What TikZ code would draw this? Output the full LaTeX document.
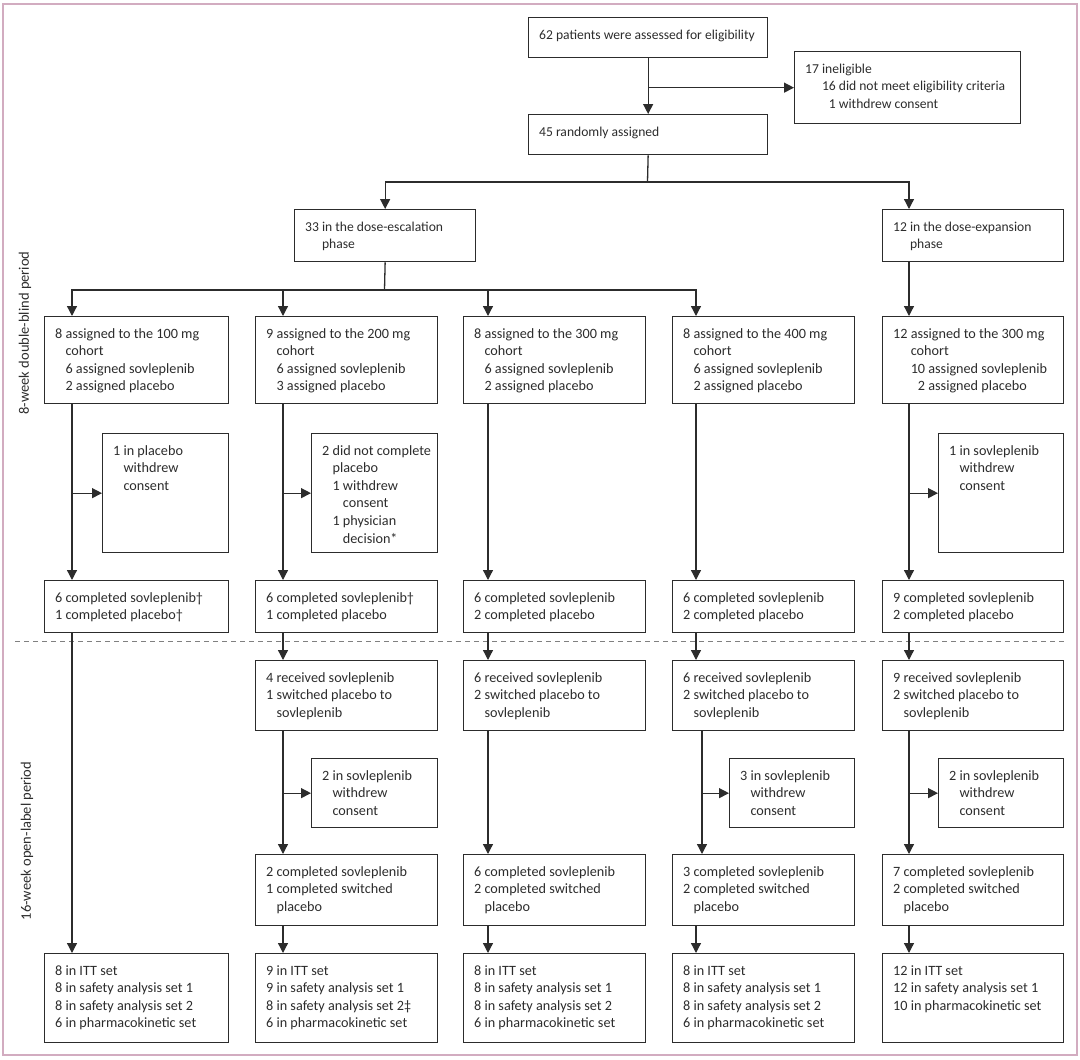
\documentclass[tikz,border=0pt]{standalone}
\usepackage{fontspec}
\setmainfont{Carlito}
\usetikzlibrary{arrows.meta}
\definecolor{ink}{HTML}{2C2C2C}
\definecolor{framecol}{RGB}{210,172,192}
\definecolor{dashcol}{HTML}{808080}
\newcommand\bx[7][]{%
  \pgfmathsetmacro\bw{#5-#3-21}\pgfmathsetmacro\bd{#6-#4-21.5}%
  \node[box, #1, text height=21.5pt, text depth=\bd pt] (#2) at (#3,#4)
    {\makebox[\bw pt][l]{\begin{tabular}[t]{@{}l@{}}#7\end{tabular}}};}
\begin{document}
\begin{tikzpicture}[x=1pt,y=-1pt,
  box/.style={draw=ink, line width=1.3pt, inner xsep=10.5pt, inner ysep=0pt, text=ink,
    font=\fontsize{14.2}{17.6}\selectfont, anchor=north west},
  topbox/.style={font=\fontsize{13.6}{17.6}\selectfont},
  line/.style={draw=ink, line width=1.3pt},
  arr/.style={line, -{Triangle[length=10pt,width=10pt]}},
  side/.style={text=ink, font=\fontsize{14.5}{16}\selectfont, rotate=90, inner sep=0pt}]
\useasboundingbox (0,0) rectangle (1080,1060);
\draw[framecol, line width=1.2pt] (3,4) rectangle (1077,1055);

% column line positions
\coordinate (c1) at (72,0);
\coordinate (c2) at (283,0);
\coordinate (c3) at (488,0);
\coordinate (c4) at (696,0);
\coordinate (c4b) at (702,0);
\coordinate (c5) at (909,0);

% top
\bx[topbox]{n62}{528}{17}{767}{57}{62 patients were assessed for eligibility}
\bx[topbox]{n17}{794}{51}{1020}{123}{17 ineligible\\\phantom{17 }16 did not meet eligibility criteria\\\phantom{17 1}1 withdrew consent}
\bx[topbox]{n45}{528}{114}{767}{154}{45 randomly assigned}
\bx[topbox]{n33}{294}{209}{475}{261}{33 in the dose-escalation\\\phantom{33 }phase}
\bx[topbox]{n12}{882}{209}{1063}{261}{12 in the dose-expansion\\\phantom{12 }phase}

% row 1
\bx{r1c1}{44}{316}{228}{403}{8 assigned to the 100 mg\\\phantom{8 }cohort\\\phantom{8 }6 assigned sovleplenib\\\phantom{8 }2 assigned placebo}
\bx{r1c2}{255}{316}{437}{403}{9 assigned to the 200 mg\\\phantom{9 }cohort\\\phantom{9 }6 assigned sovleplenib\\\phantom{9 }3 assigned placebo}
\bx{r1c3}{463}{316}{645}{403}{8 assigned to the 300 mg\\\phantom{8 }cohort\\\phantom{8 }6 assigned sovleplenib\\\phantom{8 }2 assigned placebo}
\bx{r1c4}{672}{316}{854}{403}{8 assigned to the 400 mg\\\phantom{8 }cohort\\\phantom{8 }6 assigned sovleplenib\\\phantom{8 }2 assigned placebo}
\bx{r1c5}{882}{316}{1063}{403}{12 assigned to the 300 mg\\\phantom{12 }cohort\\\phantom{12 }10 assigned sovleplenib\\\phantom{12 1}2 assigned placebo}

% exclusions row 2
\bx{e1c1}{102}{433}{228}{552}{1 in placebo\\\phantom{1 }withdrew\\\phantom{1 }consent}
\bx{e1c2}{311}{433}{437}{552}{2 did not complete\\\phantom{2 }placebo\\\phantom{2 }1 withdrew\\\phantom{2 1 }consent\\\phantom{2 }1 physician\\\phantom{2 1 }decision*}
\bx{e1c5}{938}{433}{1063}{552}{1 in sovleplenib\\\phantom{1 }withdrew\\\phantom{1 }consent}

% row 3
\bx{r3c1}{44}{580}{228}{632}{6 completed sovleplenib\textdagger\\1 completed placebo\textdagger}
\bx{r3c2}{255}{580}{437}{632}{6 completed sovleplenib\textdagger\\1 completed placebo}
\bx{r3c3}{463}{580}{645}{632}{6 completed sovleplenib\\2 completed placebo}
\bx{r3c4}{672}{580}{854}{632}{6 completed sovleplenib\\2 completed placebo}
\bx{r3c5}{882}{580}{1063}{632}{9 completed sovleplenib\\2 completed placebo}

% period divider
\coordinate (dL) at (15,641);
\coordinate (dR) at (1065,641);
\draw[dashcol, line width=0.9pt, dash pattern=on 5pt off 4pt] (dL) -- (dR);

% row 4
\bx{r4c2}{255}{660}{437}{730}{4 received sovleplenib\\1 switched placebo to\\\phantom{1 }sovleplenib}
\bx{r4c3}{463}{660}{645}{730}{6 received sovleplenib\\2 switched placebo to\\\phantom{2 }sovleplenib}
\bx{r4c4}{672}{660}{854}{730}{6 received sovleplenib\\2 switched placebo to\\\phantom{2 }sovleplenib}
\bx{r4c5}{882}{660}{1063}{730}{9 received sovleplenib\\2 switched placebo to\\\phantom{2 }sovleplenib}

% exclusions row 5
\bx{e2c2}{311}{758}{437}{827}{2 in sovleplenib\\\phantom{2 }withdrew\\\phantom{2 }consent}
\bx{e2c4}{729}{758}{854}{827}{3 in sovleplenib\\\phantom{3 }withdrew\\\phantom{3 }consent}
\bx{e2c5}{938}{758}{1063}{827}{2 in sovleplenib\\\phantom{2 }withdrew\\\phantom{2 }consent}

% row 6
\bx{r6c2}{255}{854}{437}{925}{2 completed sovleplenib\\1 completed switched\\\phantom{1 }placebo}
\bx{r6c3}{463}{854}{645}{925}{6 completed sovleplenib\\2 completed switched\\\phantom{2 }placebo}
\bx{r6c4}{672}{854}{854}{925}{3 completed sovleplenib\\2 completed switched\\\phantom{2 }placebo}
\bx{r6c5}{882}{854}{1063}{925}{7 completed sovleplenib\\2 completed switched\\\phantom{2 }placebo}

% row 7
\bx{r7c1}{44}{953}{228}{1042}{8 in ITT set\\8 in safety analysis set 1\\8 in safety analysis set 2\\6 in pharmacokinetic set}
\bx{r7c2}{255}{953}{437}{1042}{9 in ITT set\\9 in safety analysis set 1\\8 in safety analysis set 2\textdaggerdbl\\6 in pharmacokinetic set}
\bx{r7c3}{463}{953}{645}{1042}{8 in ITT set\\8 in safety analysis set 1\\8 in safety analysis set 2\\6 in pharmacokinetic set}
\bx{r7c4}{672}{953}{854}{1042}{8 in ITT set\\8 in safety analysis set 1\\8 in safety analysis set 2\\6 in pharmacokinetic set}
\bx{r7c5}{882}{953}{1063}{1042}{12 in ITT set\\12 in safety analysis set 1\\10 in pharmacokinetic set}

% side labels
\node[side] (per1) at (25,333) {8-week double-blind period};
\node[side] (per2) at (27,841) {16-week open-label period};

% connectors: top
\draw[arr] (n62.south) -- (n45.north);
\draw[arr] (n62.south |- n17.west) -- (n17.west);
\coordinate (j1) at (647.5,182);
\draw[line] (n45.south) -- (j1);
\draw[arr] (j1) -| (n33.north);
\draw[arr] (j1) -| (n12.north -| c5);
\coordinate (j2) at (384.5,290);
\draw[line] (n33.south) -- (j2);
\draw[arr] (j2) -| (r1c1.north -| c1);
\draw[arr] (j2) -| (r1c2.north -| c2);
\draw[arr] (j2) -| (r1c3.north -| c3);
\draw[arr] (j2) -| (r1c4.north -| c4);
\draw[arr] (n12.south -| c5) -- (r1c5.north -| c5);

% column 1
\draw[arr] (r1c1.south -| c1) -- (r3c1.north -| c1);
\draw[arr] (e1c1.west -| c1) -- (e1c1.west);
\draw[arr] (r3c1.south -| c1) -- (r7c1.north -| c1);

% column 2
\draw[arr] (r1c2.south -| c2) -- (r3c2.north -| c2);
\draw[arr] (e1c2.west -| c2) -- (e1c2.west);
\draw[arr] (r3c2.south -| c2) -- (r4c2.north -| c2);
\draw[arr] (r4c2.south -| c2) -- (r6c2.north -| c2);
\draw[arr] (e2c2.west -| c2) -- (e2c2.west);
\draw[arr] (r6c2.south -| c2) -- (r7c2.north -| c2);

% column 3
\draw[arr] (r1c3.south -| c3) -- (r3c3.north -| c3);
\draw[arr] (r3c3.south -| c3) -- (r4c3.north -| c3);
\draw[arr] (r4c3.south -| c3) -- (r6c3.north -| c3);
\draw[arr] (r6c3.south -| c3) -- (r7c3.north -| c3);

% column 4
\draw[arr] (r1c4.south -| c4) -- (r3c4.north -| c4);
\draw[arr] (r3c4.south -| c4) -- (r4c4.north -| c4);
\draw[arr] (r4c4.south -| c4b) -- (r6c4.north -| c4b);
\draw[arr] (e2c4.west -| c4b) -- (e2c4.west);
\draw[arr] (r6c4.south -| c4) -- (r7c4.north -| c4);

% column 5
\draw[arr] (r1c5.south -| c5) -- (r3c5.north -| c5);
\draw[arr] (e1c5.west -| c5) -- (e1c5.west);
\draw[arr] (r3c5.south -| c5) -- (r4c5.north -| c5);
\draw[arr] (r4c5.south -| c5) -- (r6c5.north -| c5);
\draw[arr] (e2c5.west -| c5) -- (e2c5.west);
\draw[arr] (r6c5.south -| c5) -- (r7c5.north -| c5);
\end{tikzpicture}
\end{document}
